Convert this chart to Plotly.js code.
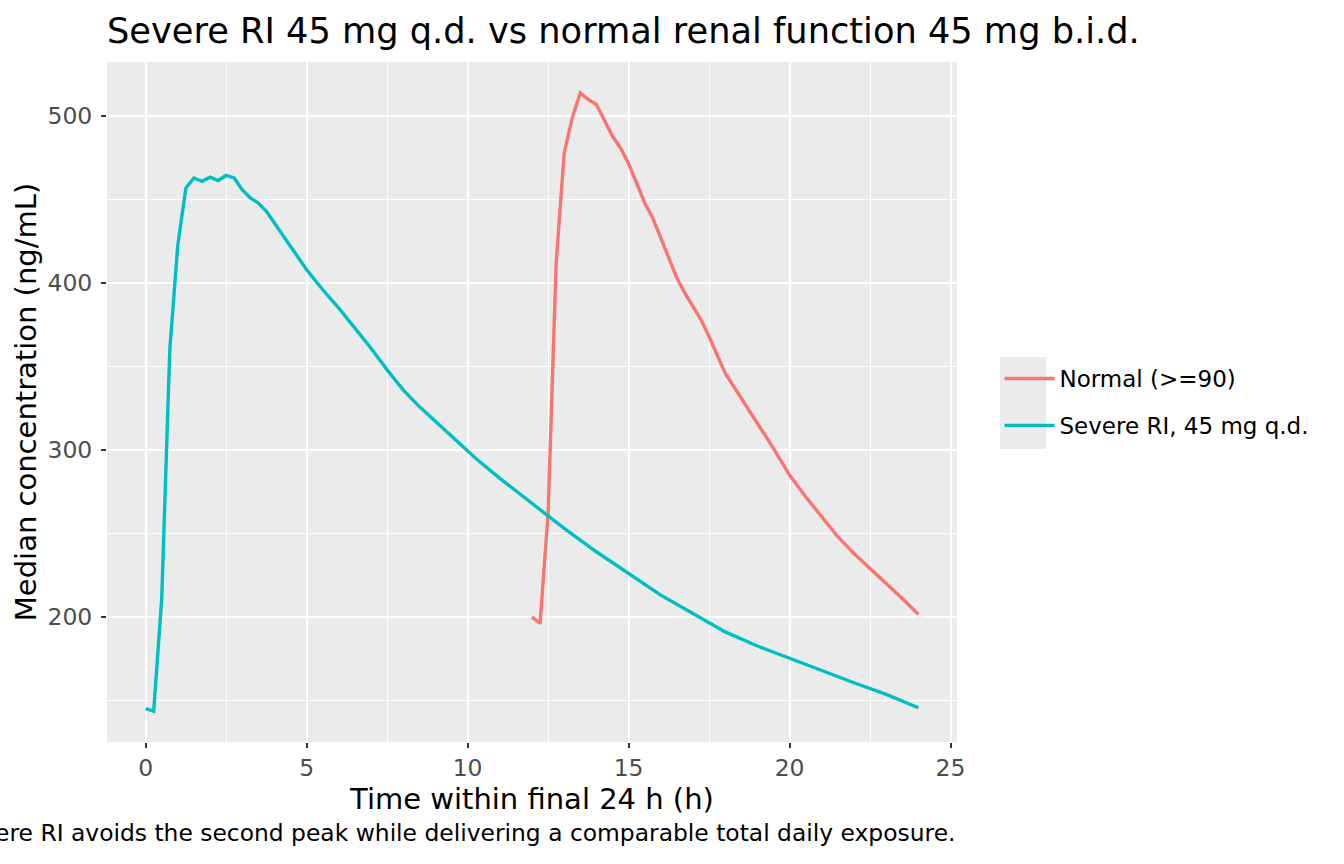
<!DOCTYPE html>
<html>
<head>
<meta charset="utf-8">
<script src="https://cdn.plot.ly/plotly-3.0.1.min.js"></script>
<style>
  html, body { margin: 0; padding: 0; background: #ffffff; }
  #concPlot { width: 1344px; height: 864px; }
</style>
</head>
<body>
<div id="concPlot"></div>
<script>
// median concentration, severe RI 45 mg q.d.
let severeTime = [
  0, 0.25, 0.5, 0.75, 1, 1.25, 1.5, 1.75, 2, 2.25, 2.5, 2.75, 3, 3.25, 3.5, 3.75,
  4, 4.5, 5, 5.5, 6, 6.5, 7, 7.5, 8, 8.5, 9, 9.5, 10,
  10.25, 11, 12, 13, 14, 15, 16, 17, 18, 19, 20, 21, 22, 23, 24,
];
let severeConc = [
  145, 143.5, 211, 360, 423, 457, 463, 461, 463.5, 461.5, 464.5, 463, 456, 451, 448, 443,
  436, 422, 408, 396, 385, 373, 361, 348, 336, 326, 317, 308, 299,
  295, 283, 268, 253, 239, 226, 213, 202, 191, 182.5, 175, 167.5, 160.5, 153.5, 145.5,
];

// median concentration, normal renal function 45 mg b.i.d. (second dose)
let normalTime = [
  12, 12.25, 12.5, 12.75, 13, 13.25, 13.5, 13.75, 14, 14.25, 14.5, 14.75, 15,
  15.25, 15.5, 15.75, 16, 16.25, 16.5, 16.75, 17, 17.25, 17.5, 17.75, 18,
  18.5, 19, 19.5, 20, 20.5, 21, 21.5, 22, 22.5, 23, 23.5, 24,
];
let normalConc = [
  200, 196, 262, 412, 478, 499, 514, 510, 507, 497, 488, 481, 471.5,
  460, 448, 439, 427, 415, 403, 394, 386, 378, 368, 357, 346,
  331, 316, 301, 285, 272, 260, 248, 238, 229, 220.5, 211, 201.5,
];

let seriesNames = ["Normal (>=90)", "Severe RI, 45 mg q.d."];
let xTicks = [0, 5, 10, 15, 20, 25];
let yTicks = [200, 300, 400, 500];

var cb_concPlot = function () {
  let trace1 = {
    x: normalTime,
    y: normalConc,
    name: seriesNames[0],
    legendgroup: "g1",
    type: "scatter",
    mode: "lines",
    line: { color: "#F8766D", width: 3.4 },
  };

  let trace2 = {
    x: severeTime,
    y: severeConc,
    name: seriesNames[1],
    legendgroup: "g2",
    type: "scatter",
    mode: "lines",
    line: { color: "#00BFC4", width: 3.4 },
  };

  let data = [trace1, trace2];

  let layout = {
    width: 1344,
    height: 864,
    margin: { l: 107, r: 387, b: 122, t: 62, pad: 0 },
    paper_bgcolor: "#ffffff",
    plot_bgcolor: "#EBEBEB",
    font: { family: "DejaVu Sans", color: "#000000" },
    title: {
      text: "Severe RI 45 mg q.d. vs normal renal function 45 mg b.i.d.",
      font: { size: 35.2, color: "#000000" },
      x: 0,
      xref: "paper",
      xanchor: "left",
      y: 0.965,
      yref: "container",
      yanchor: "middle",
    },
    // Legende
    showlegend: true,
    legend: {
      x: 1.05,
      xanchor: "left",
      y: 0.5,
      yanchor: "middle",
      bgcolor: "rgba(0,0,0,0)",
      font: { size: 23, color: "#000000" },
      traceorder: "grouped",
      tracegroupgap: 14,
      itemwidth: 50,
    },
    xaxis: {
      range: [-1.2, 25.2],
      tickvals: xTicks,
      ticks: "outside",
      ticklen: 5,
      tickwidth: 1.5,
      tickcolor: "#333333",
      tickfont: { size: 23.5, color: "#4D4D4D" },
      ticklabelstandoff: 0,
      showgrid: true,
      gridcolor: "#ffffff",
      gridwidth: 2,
      zeroline: false,
      showline: false,
      minor: { dtick: 2.5, tick0: 0, showgrid: true, gridcolor: "#ffffff", gridwidth: 1, ticks: "" },
      title: { text: "Time within final 24 h (h)", font: { size: 29 }, standoff: 3 },
    },
    yaxis: {
      range: [125, 532.5],
      tickvals: yTicks,
      ticks: "outside",
      ticklen: 5,
      tickwidth: 1.5,
      tickcolor: "#333333",
      tickfont: { size: 23.5, color: "#4D4D4D" },
      ticklabelstandoff: 4,
      showgrid: true,
      gridcolor: "#ffffff",
      gridwidth: 2,
      zeroline: false,
      showline: false,
      minor: { dtick: 50, tick0: 150, showgrid: true, gridcolor: "#ffffff", gridwidth: 1, ticks: "" },
      title: { text: "Median concentration (ng/mL)", font: { size: 29 }, standoff: 2 },
    },
    // grey key background behind the legend lines
    shapes: [
      {
        type: "rect",
        xref: "paper",
        yref: "paper",
        x0: 1.0506,
        x1: 1.1047,
        y0: 0.431,
        y1: 0.566,
        fillcolor: "#EBEBEB",
        line: { width: 0 },
        layer: "below",
      },
    ],
    annotations: [
      {
        text: "Severe RI avoids the second peak while delivering a comparable total daily exposure.",
        xref: "paper",
        yref: "paper",
        x: 1,
        xanchor: "right",
        y: -0.134,
        yanchor: "middle",
        showarrow: false,
        font: { size: 23.4, color: "#000000" },
      },
    ],
  };
  // end layout

  let config = {
    responsive: false,
    displayModeBar: false,
    displaylogo: false,
  };

  Plotly.newPlot("concPlot", data, layout, config);
};

cb_concPlot();
</script>
</body>
</html>
